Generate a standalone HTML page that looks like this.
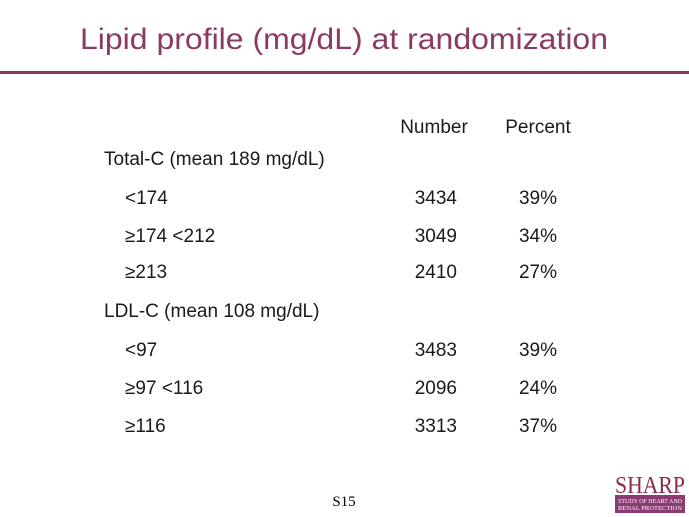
<!DOCTYPE html>
<html><head><meta charset="utf-8"><style>
html,body{margin:0;padding:0;background:#fff;}
svg{display:block;font-family:"Liberation Sans",sans-serif;}
</style></head><body>
<svg width="689" height="517" viewBox="0 0 689 517">
<text x="344" y="49" text-anchor="middle" font-size="30" fill="#8b3a62" textLength="528" lengthAdjust="spacingAndGlyphs">Lipid profile (mg/dL) at randomization</text>
<rect x="0" y="71" width="689" height="3" fill="#8b3a62"/>
<g font-size="19" fill="#1a1a1a">
<text x="434" y="133" text-anchor="middle">Number</text>
<text x="538" y="133" text-anchor="middle">Percent</text>
<text x="104" y="165">Total-C (mean 189 mg/dL)</text>
<text x="125" y="204">&lt;174</text>
<text x="457" y="204" text-anchor="end">3434</text>
<text x="557" y="204" text-anchor="end">39%</text>
<text x="125" y="242">≥174 &lt;212</text>
<text x="457" y="242" text-anchor="end">3049</text>
<text x="557" y="242" text-anchor="end">34%</text>
<text x="125" y="278">≥213</text>
<text x="457" y="278" text-anchor="end">2410</text>
<text x="557" y="278" text-anchor="end">27%</text>
<text x="104" y="317">LDL-C (mean 108 mg/dL)</text>
<text x="125" y="356">&lt;97</text>
<text x="457" y="356" text-anchor="end">3483</text>
<text x="557" y="356" text-anchor="end">39%</text>
<text x="125" y="394">≥97 &lt;116</text>
<text x="457" y="394" text-anchor="end">2096</text>
<text x="557" y="394" text-anchor="end">24%</text>
<text x="125" y="432">≥116</text>
<text x="457" y="432" text-anchor="end">3313</text>
<text x="557" y="432" text-anchor="end">37%</text>
</g>
<text x="344" y="506" text-anchor="middle" font-family="Liberation Serif,serif" font-size="15" fill="#000">S15</text>
<g>
<text x="650" y="493" text-anchor="middle" font-family="Liberation Serif,serif" font-size="24" fill="#8b2a4a" textLength="70" lengthAdjust="spacingAndGlyphs">SHARP</text>
<rect x="615" y="495" width="70" height="18" fill="#8b3a72"/>
<text x="650" y="503" text-anchor="middle" font-family="Liberation Serif,serif" font-size="6" fill="#fff" textLength="64" lengthAdjust="spacingAndGlyphs">STUDY OF HEART AND</text>
<text x="650" y="510" text-anchor="middle" font-family="Liberation Serif,serif" font-size="6" fill="#fff" textLength="64" lengthAdjust="spacingAndGlyphs">RENAL PROTECTION</text>
</g>
</svg>
</body></html>
